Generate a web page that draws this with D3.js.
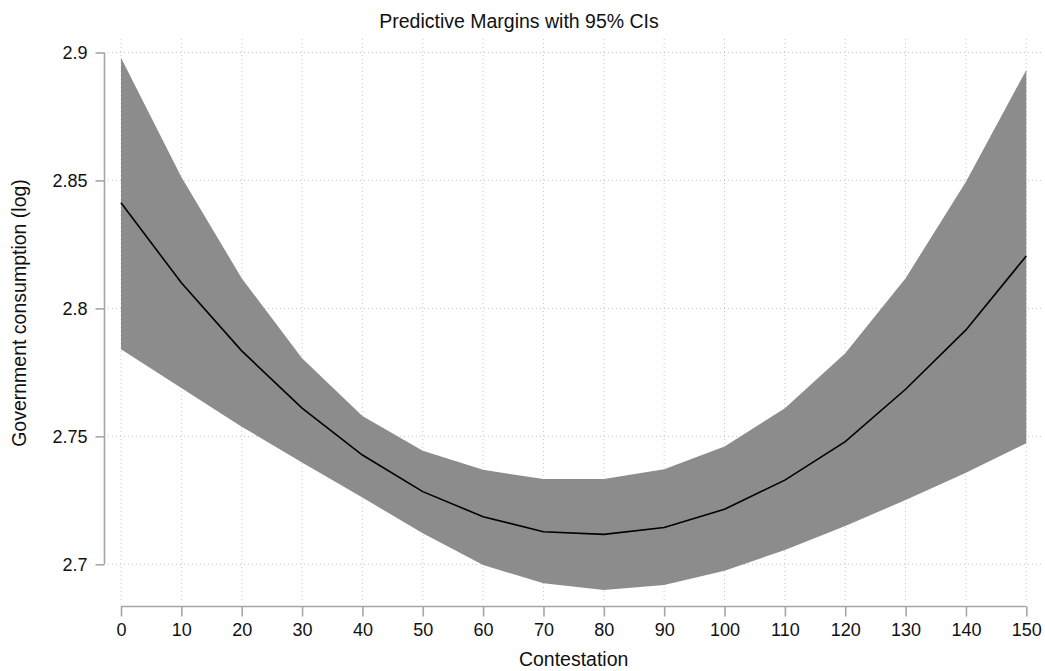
<!DOCTYPE html>
<html>
<head>
<meta charset="utf-8">
<script src="https://cdn.jsdelivr.net/npm/d3@7/dist/d3.min.js"></script>
<style>
  body { margin: 0; background: #fff; }
  text { font-family: "Liberation Sans", Arial, Helvetica, sans-serif; fill: #111; }
</style>
</head>
<body>
<div id="chart"></div>
<script>
// contestation levels and predictive margins with 95% CI
const contestation = [0, 10, 20, 30, 40, 50, 60, 70, 80, 90, 100, 110, 120, 130, 140, 150];
const margin = [2.8413, 2.8100, 2.7834, 2.7610, 2.7427, 2.7284, 2.7186, 2.7127, 2.7117, 2.7144, 2.7215, 2.7329, 2.7479, 2.7684, 2.7916, 2.8205];
const ciUpper = [2.8979, 2.8513, 2.8118, 2.7805, 2.7580, 2.7444, 2.7369, 2.7333, 2.7333, 2.7371, 2.7460, 2.7610, 2.7825, 2.8118, 2.8495, 2.8932];
const ciLower = [2.7840, 2.7689, 2.7538, 2.7398, 2.7261, 2.7121, 2.6997, 2.6926, 2.6900, 2.6919, 2.6975, 2.7056, 2.7150, 2.7251, 2.7358, 2.7473];
const yTicks = [2.7, 2.75, 2.8, 2.85, 2.9];
const xTicks = d3.range(0, 151, 10);

const width = 1045, height = 671;

let svg = d3.select("#chart")
            .append("svg")
            .attr("width", width)
            .attr("height", height);

let x = d3.scaleLinear().domain([0, 150]).range([121, 1026.3]);
let y = d3.scaleLinear().domain([2.7, 2.9]).range([564.3, 52.5]);

const rows = contestation.map((c, i) => ({c: c, m: margin[i], hi: ciUpper[i], lo: ciLower[i]}));

// grid (dotted, stata style)
svg.append("g")
   .selectAll("line")
   .data(xTicks)
   .enter()
   .append("line")
   .attr("x1", d => x(d)).attr("x2", d => x(d))
   .attr("y1", 39).attr("y2", 601)
   .attr("stroke", "#c8c8c8")
   .attr("stroke-width", 1)
   .attr("stroke-dasharray", "1,3");

svg.append("g")
   .selectAll("line")
   .data(yTicks)
   .enter()
   .append("line")
   .attr("x1", 108).attr("x2", 1041)
   .attr("y1", d => y(d)).attr("y2", d => y(d))
   .attr("stroke", "#c8c8c8")
   .attr("stroke-width", 1)
   .attr("stroke-dasharray", "1,3");

// CI band
let area = d3.area()
             .x(d => x(d.c))
             .y0(d => y(d.lo))
             .y1(d => y(d.hi));

svg.append("path")
   .datum(rows)
   .attr("d", area)
   .attr("fill", "#8c8c8c");

// margins line
let line = d3.line()
             .x(d => x(d.c))
             .y(d => y(d.m));

svg.append("path")
   .datum(rows)
   .attr("d", line)
   .attr("fill", "none")
   .attr("stroke", "#000")
   .attr("stroke-width", 1.6);

// axes
let yAxis = d3.axisLeft(y)
              .tickValues(yTicks)
              .tickSize(9)
              .tickPadding(8)
              .tickFormat(d => d3.format("")(+d.toFixed(2)));

let gy = svg.append("g")
            .attr("transform", "translate(104.5,0)")
            .call(yAxis);

let xAxis = d3.axisBottom(x)
              .tickValues(xTicks)
              .tickSize(10)
              .tickPadding(7);

let gx = svg.append("g")
            .attr("transform", "translate(0,606.5)")
            .call(xAxis);

[gy, gx].forEach(g => {
  g.select(".domain").attr("stroke", "#a6a6a6").attr("stroke-width", 1.6);
  g.selectAll(".tick line").attr("stroke", "#a6a6a6").attr("stroke-width", 1.6);
  g.selectAll(".tick text")
   .style("font-family", '"Liberation Sans", Arial, sans-serif')
   .style("font-size", "18px")
   .attr("fill", "#111");
});
gy.select(".domain").attr("d", `M0,${y(2.9)}V${y(2.7)}`);
gx.select(".domain").attr("d", `M${x(0)},0H${x(150)}`);

// titles
svg.append("text")
   .attr("x", 519)
   .attr("y", 28)
   .style("text-anchor", "middle")
   .style("font-size", "19.5px")
   .text("Predictive Margins with 95% CIs");

svg.append("text")
   .attr("x", x(75))
   .attr("y", 666)
   .style("text-anchor", "middle")
   .style("font-size", "19.5px")
   .text("Contestation");

svg.append("text")
   .attr("transform", `translate(26,313) rotate(-90)`)
   .style("text-anchor", "middle")
   .style("font-size", "19.5px")
   .text("Government consumption (log)");
</script>
</body>
</html>
